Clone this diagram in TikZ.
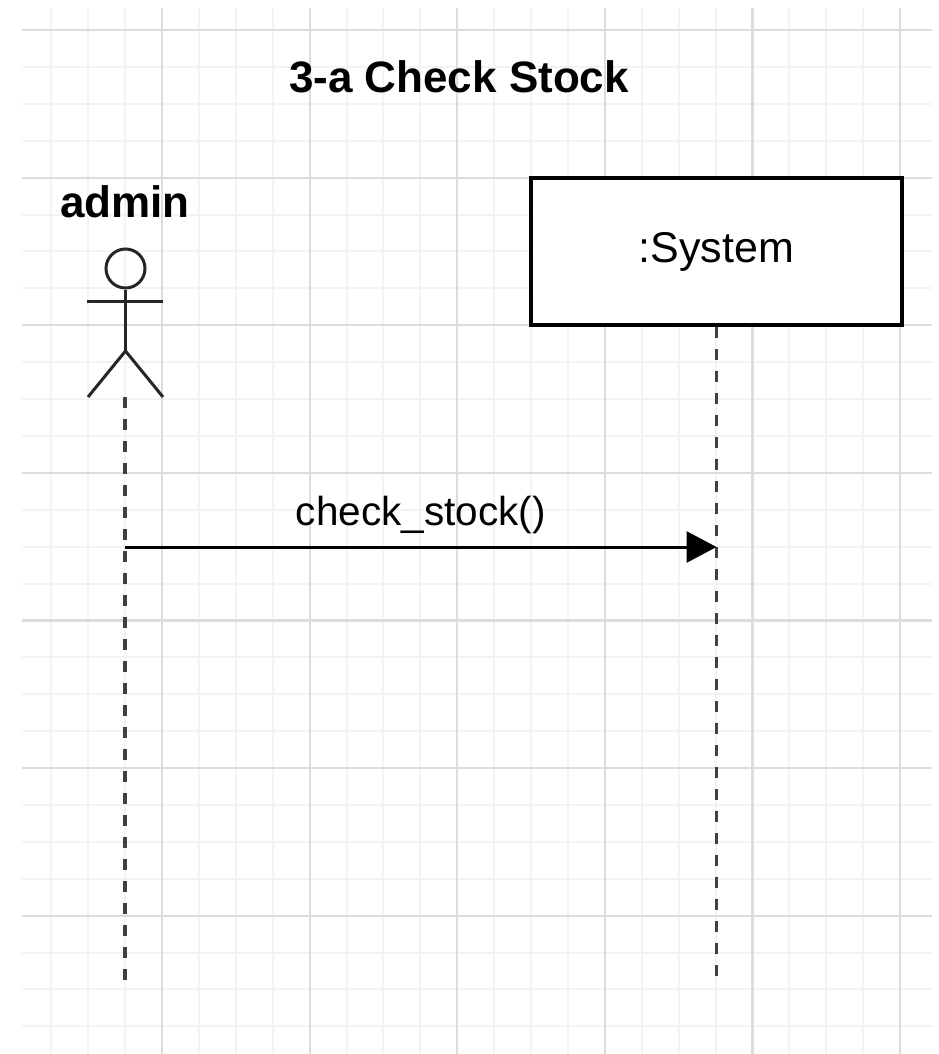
\documentclass[tikz,border=0pt]{standalone}
\usepackage{fontspec}
\setmainfont{Liberation Sans}
\usetikzlibrary{arrows.meta}
\definecolor{gridmajor}{RGB}{220,220,220}
\definecolor{gridminor}{RGB}{243,243,243}
\begin{document}
\begin{tikzpicture}[x=1pt,y=-1pt,
  minorline/.style={draw=gridminor,line width=2pt},
  majorline/.style={draw=gridmajor,line width=2.2pt},
  lifeline/.style={draw=black!75,line width=3.2pt,dash pattern=on 11pt off 11pt},
  actorline/.style={draw=black!85,line width=3pt},
  msg/.style={draw=black,line width=3pt,-{Triangle[length=30pt,width=31pt]}},
  bigbold/.style={font=\fontsize{44}{50}\selectfont\bfseries},
  plaintext/.style={font=\fontsize{43}{50}\selectfont},
  msgtext/.style={font=\fontsize{40.5}{48}\selectfont}]
\useasboundingbox (0,0) rectangle (938,1054);
\fill[white] (0,0) rectangle (938,1054);
% grid
\foreach \k in {1,...,24} {
  \pgfmathsetmacro{\gx}{14.4+36.9*\k}
  \path[minorline] (\gx,8) -- (\gx,1054);
}
\foreach \j in {0,...,27} {
  \pgfmathsetmacro{\gy}{30+36.9*\j}
  \path[minorline] (22,\gy) -- (932,\gy);
}
\foreach \k in {4,8,...,24} {
  \pgfmathsetmacro{\gx}{14.4+36.9*\k}
  \path[majorline] (\gx,8) -- (\gx,1054);
}
\foreach \j in {0,4,...,24} {
  \pgfmathsetmacro{\gy}{30+36.9*\j}
  \path[majorline] (22,\gy) -- (932,\gy);
}
% title
\node[bigbold,anchor=base,inner sep=0] (title) at (459,93) {3-a Check Stock};
% actor
\node[bigbold,anchor=base,inner sep=0] (admin) at (125,217) {admin};
\node[circle,actorline,minimum size=39pt,inner sep=0] (head) at (125.5,268.5) {};
\coordinate (hip) at (125.5,351);
\coordinate (armL) at (87,301.7);
\coordinate (armR) at (163,301.7);
\coordinate (footL) at (88,397);
\coordinate (footR) at (163,397);
\coordinate (actorBottom) at (125,397);
\path[actorline] (head.south) -- (hip);
\path[actorline] (armL) -- (armR);
\path[actorline] (footL) -- (hip) -- (footR);
% system box
\node[draw=black,line width=3.8pt,fill=white,minimum width=371pt,minimum height=147pt,inner sep=0,plaintext] (sys) at (716.5,251.5) {:System};
% lifelines
\coordinate (adminEnd) at (125,987);
\coordinate (sysEnd) at (716.5,980);
\path[lifeline] (actorBottom) -- (adminEnd);
\path[lifeline] (sys.south) -- (sysEnd);
% message
\coordinate (m1s) at (125,547);
\coordinate (m1e) at (716.5,547);
\draw[msg] (m1s) -- node[msgtext,midway,anchor=base,yshift=22pt,inner sep=0] (m1label) {check\_stock()} (m1e);
\end{tikzpicture}
\end{document}
